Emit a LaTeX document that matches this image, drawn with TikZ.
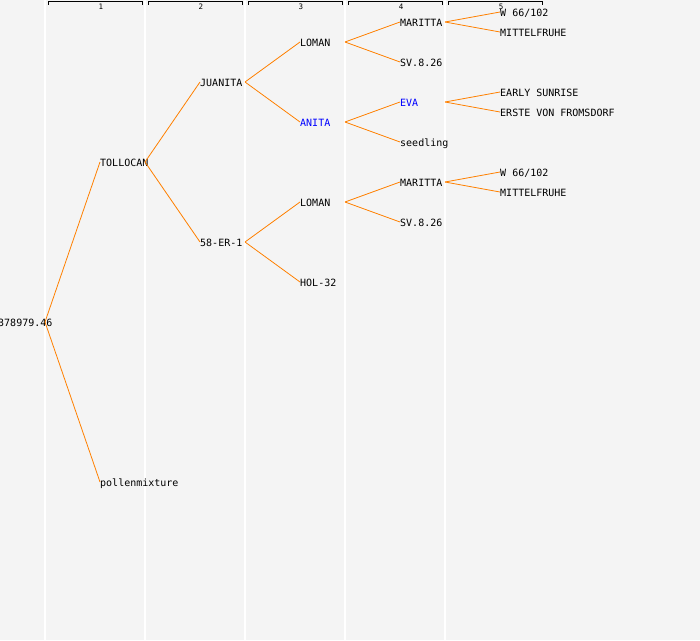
\documentclass[tikz,border=0pt]{standalone}
\usepackage{fontspec}
\setmonofont{DejaVu Sans Mono}
\definecolor{bg}{HTML}{F4F4F4}
\definecolor{ln}{HTML}{FF8000}
\tikzset{
  lbl/.style={anchor=west,inner sep=0pt,text height=8pt,text depth=0pt,
    font=\ttfamily\fontsize{10}{12}\selectfont},
  sel/.style={lbl,text=blue},
  link/.style={draw=ln,line width=0.8pt},
  hdr/.style={inner sep=0pt,font=\ttfamily\fontsize{7.5}{8}\selectfont}
}
\begin{document}
\begin{tikzpicture}[x=1pt,y=-1pt]
\fill[bg] (0,0) rectangle (700,640);
\useasboundingbox (0,0) rectangle (700,640);

% columns and headers
\foreach \c in {1,...,5} {
  \draw[white,line width=1.2pt] (100*\c-55,0) coordinate (b\c) -- (100*\c-55,640);
  \draw[line width=0.8pt] (100*\c-52,4.5) -- (100*\c-52,1.5) -- (100*\c+42,1.5) -- (100*\c+42,4.5);
  \node[hdr] (h\c) at (100*\c+1,7) {\c};
}

% generation 0 and 1
\node[lbl] (r) at (-2,322) {378979.46};
\node[lbl] (t) at (100,162) {TOLLOCAN};
\node[lbl] (p) at (100,482) {pollenmixture};

% generation 2
\node[lbl] (j) at (200,82) {JUANITA};
\node[lbl] (e) at (200,242) {58-ER-1};

% generation 3
\node[lbl] (l1) at (300,42) {LOMAN};
\node[sel] (a) at (300,122) {ANITA};
\node[lbl] (l2) at (300,202) {LOMAN};
\node[lbl] (h) at (300,282) {HOL-32};

% generation 4
\node[lbl] (m1) at (400,22) {MARITTA};
\node[lbl] (s1) at (400,62) {SV.8.26};
\node[sel] (v) at (400,102) {EVA};
\node[lbl] (sd) at (400,142) {seedling};
\node[lbl] (m2) at (400,182) {MARITTA};
\node[lbl] (s2) at (400,222) {SV.8.26};

% generation 5
\node[lbl] (w1) at (500,12) {W 66/102};
\node[lbl] (f1) at (500,32) {MITTELFRUHE};
\node[lbl] (es) at (500,92) {EARLY SUNRISE};
\node[lbl] (ev) at (500,112) {ERSTE VON FROMSDORF};
\node[lbl] (w2) at (500,172) {W 66/102};
\node[lbl] (f2) at (500,192) {MITTELFRUHE};

\foreach \u/\k/\v in {r/1/t, r/1/p, t/2/j, t/2/e, j/3/l1, j/3/a, e/3/l2, e/3/h,
  l1/4/m1, l1/4/s1, a/4/v, a/4/sd, l2/4/m2, l2/4/s2,
  m1/5/w1, m1/5/f1, v/5/es, v/5/ev, m2/5/w2, m2/5/f2}
  \draw[link] (\u.west -| b\k) -- (\v.west);

\end{tikzpicture}
\end{document}
